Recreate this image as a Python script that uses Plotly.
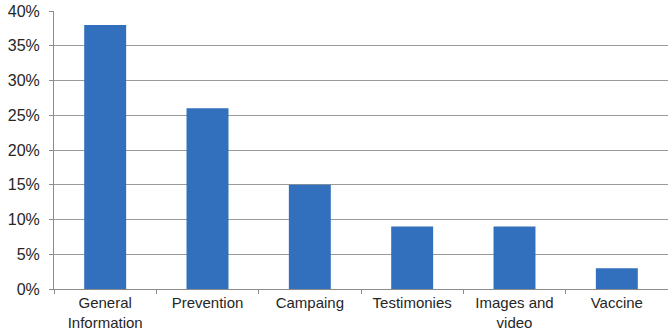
import plotly.graph_objects as go

# Share of posts by content type
categories = ["General<br>Information", "Prevention", "Campaing", "Testimonies",
              "Images and<br>video", "Vaccine"]
shares = [0.38, 0.26, 0.15, 0.09, 0.09, 0.03]
y_ticks = [0, 0.05, 0.10, 0.15, 0.20, 0.25, 0.30, 0.35, 0.40]

fig = go.Figure(
    go.Bar(
        x=categories,
        y=shares,
        marker=dict(color="#3270bd", line=dict(width=0)),
        width=0.41,
    )
)

fig.update_layout(
    width=668,
    height=331,
    margin=dict(l=54, r=0, t=11, b=42),
    plot_bgcolor="white",
    paper_bgcolor="white",
    font=dict(family="Liberation Sans, Arial, sans-serif", size=16, color="#262626"),
    showlegend=False,
)

fig.update_xaxes(
    automargin=False,
    showgrid=False,
    showline=True,
    linecolor="#8c8c8c",
    linewidth=1,
    ticks="outside",
    tickson="boundaries",
    ticklen=4,
    tickcolor="#8c8c8c",
    tickfont=dict(size=15),
)

fig.update_yaxes(
    automargin=False,
    range=[0, 0.40],
    tickvals=y_ticks,
    tickformat=".0%",
    showgrid=True,
    gridcolor="#9a9a9a",
    gridwidth=1,
    showline=True,
    linecolor="#8c8c8c",
    ticks="outside",
    ticklen=4,
    tickcolor="#8c8c8c",
    tickfont=dict(size=16),
    ticklabelstandoff=6,
    zeroline=False,
)

# drop the page's default body margin so the figure sits at the window's corner
fig.write_html("out.html", config={"displayModeBar": False},
               post_script="document.body.style.margin='0';")
